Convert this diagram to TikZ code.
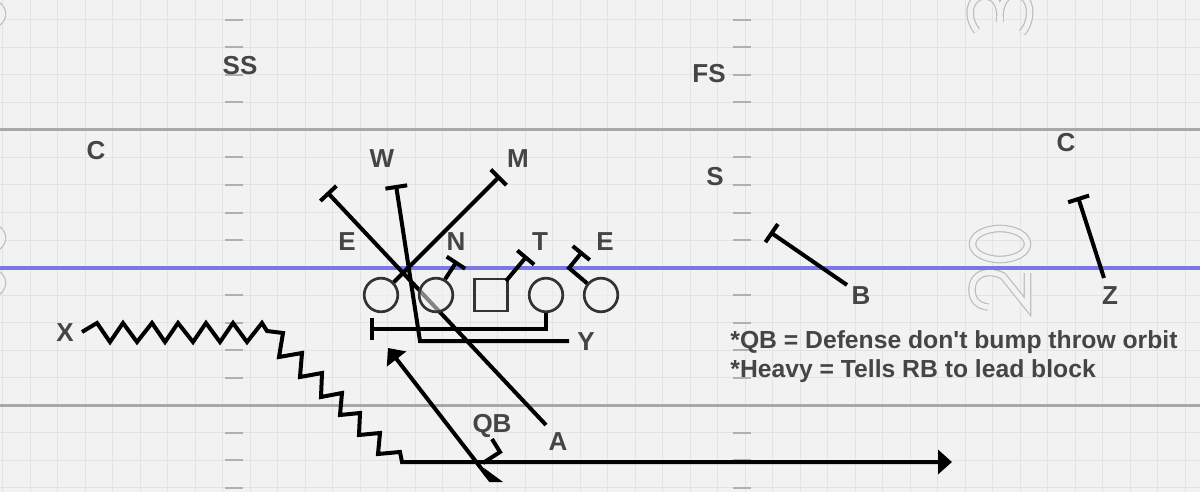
\documentclass[tikz,border=0pt]{standalone}
\usepackage{fontspec}
\setmainfont{Liberation Sans}
\usetikzlibrary{arrows.meta}
\definecolor{bg}{HTML}{F2F2F2}
\definecolor{gridc}{HTML}{E3E3E3}
\definecolor{majorc}{HTML}{A8A8A8}
\definecolor{hashc}{HTML}{B0B0B0}
\definecolor{losc}{HTML}{7878E6}
\definecolor{numc}{HTML}{BDBDBD}
\definecolor{txt}{HTML}{454545}
\definecolor{olc}{HTML}{333333}
\begin{document}
\begin{tikzpicture}[x=0.5pt,y=-0.5pt,
  lbl/.style={font=\fontsize{13}{15}\selectfont\bfseries, text=txt, inner sep=0pt, text height=9.3pt, text depth=0pt},
  note/.style={font=\fontsize{12.35}{15}\selectfont\bfseries, text=txt, inner sep=0pt, anchor=base west},
  route/.style={draw=black, line width=2pt, line join=miter},
  blk/.style={route, -{Bar[width=11pt]}},
  arr/.style={route, -{Triangle[length=7pt,width=12pt]}},
  olman/.style={circle, draw=olc, line width=1.35pt, fill=bg, fill opacity=0.55, minimum size=16.8pt, inner sep=0pt},
  center/.style={rectangle, draw=olc, line width=1.35pt, fill=bg, fill opacity=0.55, minimum width=16.5pt, minimum height=16pt, inner sep=0pt},
  gridline/.style={draw=gridc, line width=0.5pt},
  hash/.style={draw=hashc, line width=1pt},
  yardnum/.style={draw=numc, line width=0.6pt, double=bg, double distance=2.6pt},
]
\useasboundingbox (0,0) rectangle (1200,492);
\clip (0,0) rectangle (1200,492);
\fill[bg] (0,0) rectangle (1200,492);
% grid
\foreach \i in {0,...,43} \draw[gridline] ({2.5+27.5*\i},0) -- ({2.5+27.5*\i},492);
\foreach \j in {0,...,18} \draw[gridline] (0,{-7.5+27.5*\j}) -- (1200,{-7.5+27.5*\j});
% hash marks
\foreach \y in {20,47.5,75,102.5,157.5,185,212.5,240,295,322.5,350,377.5,432.5,460,487.5} {
  \draw[hash] (225,\y) -- (243,\y);
  \draw[hash] (733,\y) -- (751,\y);
}
% yard lines
\draw[draw=majorc, line width=1.5pt] (0,130) -- (1200,130);
\draw[draw=majorc, line width=1.5pt] (0,405) -- (1200,405);
% yard numbers (outlined)
\draw[yardnum] (1000,244) ellipse [x radius=27.5, y radius=15.5];
\draw[yardnum] (1027.5,273) -- (1027.5,306.5) -- (1003,276) .. controls (990,269) and (972,272) .. (972,290) .. controls (972,300) and (978,306) .. (988,307);
\draw[yardnum] (977,31) .. controls (966,18) and (968,-4) .. (985,-4) .. controls (996,-4) and (1000,6) .. (1000,16) .. controls (1000,4) and (1006,-6) .. (1015,-6) .. controls (1032,-6) and (1034,20) .. (1022,33);
\draw[yardnum] (1000,16) -- (1000,22);
\draw[yardnum] (-25,14) ellipse [x radius=27.5, y radius=15.5];
\draw[yardnum] (-25,238) ellipse [x radius=27.5, y radius=15.5];
\draw[yardnum] (-25,283) ellipse [x radius=27.5, y radius=15.5];
% line of scrimmage
\draw[draw=losc, line width=2pt] (0,267.5) -- (1200,267.5);

% A route (lead block on E), drawn beneath the line
\coordinate (aS) at (546,425);
\coordinate (eT) at (327,192);
\draw[blk] (aS) -- (eT);

% offensive line
\node[olman] (ol1) at (381,295) {};
\node[olman] (ol2) at (436,295) {};
\node[center] (sq) at (491,295) {};
\node[olman] (ol4) at (546,295) {};
\node[olman] (ol5) at (601,295) {};

% blocks
\coordinate (mT) at (500,176);
\coordinate (nT) at (457,261);
\coordinate (sqS) at (506,281);
\coordinate (tT) at (527,256);
\coordinate (e2K) at (569,268);
\coordinate (e2T) at (582.5,251.5);
\coordinate (o4K) at (546,329);
\coordinate (o4T) at (370,329);
\draw[blk] (ol1.45) -- (mT);
\draw[blk] (ol2.60) -- (nT);
\draw[blk] (sqS) -- (tT);
\draw[blk] (ol5.140) -- (e2K) -- (e2T);
\draw[blk] (ol4.south) -- (o4K) -- (o4T);

% Y route
\coordinate (yS) at (569,341);
\coordinate (yK) at (420,341);
\coordinate (wT) at (396,185);
\draw[blk] (yS) -- (yK) -- (wT);

% B and Z blocks
\coordinate (bS) at (847,285);
\coordinate (bT) at (770,232);
\draw[blk] (bS) -- (bT);
\coordinate (zS) at (1104,278);
\coordinate (zT) at (1078,197);
\draw[blk] (zS) -- (zT);

% X route
\coordinate (xS) at (82,332);
\coordinate (xE) at (952,462);
\draw[arr] (xS) -- (97,323) -- (110,342) -- (123,323) -- (137,342) -- (152,323) -- (165,342) -- (178,323) -- (193,342) -- (206,323) -- (220,342) -- (233,323) -- (247,342) -- (262,323) -- (267,331) -- (283,333) -- (279,357) -- (302,353) -- (300,377) -- (322,373) -- (321,397) -- (342,393) -- (340,415) -- (360,413) -- (359,435) -- (380,433) -- (378,454) -- (400,452) -- (402,462) -- (xE);

% QB route
\coordinate (qS) at (491,481);
\coordinate (qT) at (388,348);
\draw[arr] (qS) -- (qT);
\fill[black] (484,468) -- (503,482) -- (490,482) -- cycle;
\coordinate (qb1) at (492,439);
\coordinate (qb2) at (500,452);
\coordinate (qb3) at (483,463);
\draw[route] (qb1) -- (qb2) -- (qb3);

% labels
\node[lbl] (ss) at (240,65) {SS};
\node[lbl] (fs) at (709,73) {FS};
\node[lbl] (c1) at (96,150) {C};
\node[lbl] (c2) at (1066,142) {C};
\node[lbl] (w) at (382,158) {W};
\node[lbl] (m) at (518,158) {M};
\node[lbl] (s) at (715,176) {S};
\node[lbl] (e1) at (347,241) {E};
\node[lbl] (n) at (456,241) {N};
\node[lbl] (t) at (540,241) {T};
\node[lbl] (e2) at (605,241) {E};
\node[lbl] (b) at (861,295) {B};
\node[lbl] (z) at (1110,295) {Z};
\node[lbl] (x) at (65,332) {X};
\node[lbl] (y) at (586,341) {Y};
\node[lbl] (qb) at (492,423) {QB};
\node[lbl] (a) at (558,441) {A};
\node[note] (n1) at (730,348) {*QB = Defense don\textquotesingle t bump throw orbit};
\node[note] (n2) at (730,377) {*Heavy = Tells RB to lead block};
\end{tikzpicture}
\end{document}
